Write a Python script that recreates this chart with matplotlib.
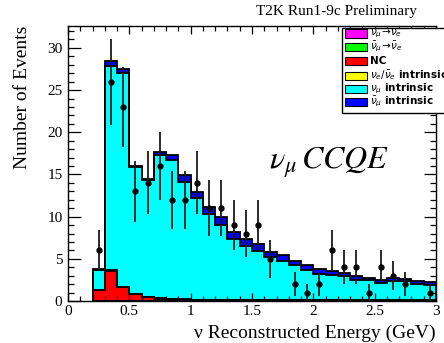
import numpy as np
import matplotlib
matplotlib.use("Agg")
import matplotlib.pyplot as plt
from matplotlib.patches import Rectangle
from matplotlib.ticker import MultipleLocator, FixedLocator, FixedFormatter

plt.rcParams['font.family'] = ['Liberation Serif', 'DejaVu Serif']
plt.rcParams['mathtext.fontset'] = 'stix'

# Reconstructed-energy binning (GeV)
bin_edges = np.linspace(0.2, 3.0, 29)

# Predicted events per bin, by component
numu_to_nue = [0.02, 0.03, 0.03, 0.02, 0.02, 0.02, 0.02, 0.02, 0.02, 0.02, 0.02, 0.02, 0.02, 0.02,
               0.02, 0.02, 0.02, 0.02, 0.02, 0.02, 0.02, 0.02, 0.02, 0.02, 0.02, 0.02, 0.02, 0.02]
numubar_to_nuebar = [0.01, 0.01, 0.01, 0.01, 0.01, 0.01, 0.01, 0.01, 0.01, 0.01, 0.01, 0.01, 0.01, 0.01,
                     0.01, 0.01, 0.01, 0.01, 0.01, 0.01, 0.01, 0.01, 0.01, 0.01, 0.01, 0.01, 0.01, 0.01]
nc = [1.30, 3.55, 1.60, 0.80, 0.45, 0.25, 0.15, 0.12, 0.10, 0.08, 0.07, 0.06, 0.05, 0.05,
      0.04, 0.04, 0.03, 0.03, 0.03, 0.03, 0.02, 0.02, 0.02, 0.02, 0.02, 0.02, 0.02, 0.02]
nue_intrinsic = [0.03, 0.03, 0.03, 0.03, 0.03, 0.03, 0.03, 0.03, 0.03, 0.03, 0.03, 0.03, 0.03, 0.03,
                 0.03, 0.03, 0.03, 0.03, 0.05, 0.05, 0.05, 0.05, 0.05, 0.05, 0.05, 0.05, 0.05, 0.05]
numu_intrinsic = [2.34, 24.20, 25.35, 15.00, 13.80, 16.95, 16.50, 13.95, 12.05, 10.15, 8.87, 7.23, 6.44, 5.79,
                  5.10, 4.65, 4.16, 3.61, 3.11, 3.01, 2.82, 2.42, 2.42, 2.02, 2.22, 2.22, 1.97, 1.82]
numubar_intrinsic = [0.05, 0.60, 0.50, 0.20, 0.20, 0.45, 0.60, 0.80, 0.75, 0.80, 0.90, 0.85, 0.85, 0.80,
                     0.65, 0.65, 0.55, 0.55, 0.55, 0.45, 0.45, 0.45, 0.25, 0.40, 0.40, 0.30, 0.30, 0.30]

# Observed events per bin
data_counts = [6, 26, 23, 13, 14, 16, 12, 12, 14, 11, 11, 9, 8, 9,
               5, 0, 2, 1, 2, 6, 4, 4, 1, 4, 3, 2, 0, 1]

x_ticks = [0, 0.5, 1, 1.5, 2, 2.5, 3]
x_tick_labels = ["0", "0.5", "1", "1.5", "2", "2.5", "3"]
y_ticks = [0, 5, 10, 15, 20, 25, 30]
y_tick_labels = ["0", "5", "10", "15", "20", "25", "30"]

stack = [
    (numu_to_nue, "#ff00ff", r"$\nu_{\mu}\!\rightarrow\!\nu_{e}$"),
    (numubar_to_nuebar, "#00ff00", r"$\bar{\nu}_{\mu}\!\rightarrow\!\bar{\nu}_{e}$"),
    (nc, "#ff0000", "NC"),
    (nue_intrinsic, "#ffff00", r"$\nu_{e}/\bar{\nu}_{e}$ intrinsic"),
    (numu_intrinsic, "#00ffff", r"$\nu_{\mu}$ intrinsic"),
    (numubar_intrinsic, "#0000ff", r"$\bar{\nu}_{\mu}$ intrinsic"),
]

W, H = 444, 343
fig = plt.figure(figsize=(W / 100, H / 100), dpi=100)
ax = fig.add_axes([68 / W, 1 - 301 / H, (436 - 68) / W, (301 - 26) / H])

# Stacked filled histograms
bottom = np.zeros(len(bin_edges) - 1)
tops = []
for vals, color, _ in stack:
    top = bottom + np.asarray(vals)
    ax.stairs(top, bin_edges, baseline=bottom, fill=True, color=color, lw=0, zorder=1)
    tops.append(top)
    bottom = top
for top in tops:
    ax.stairs(top, bin_edges, baseline=0, fill=False, edgecolor="black", lw=1.3, zorder=2)

# Data points with Poisson errors
counts = np.asarray(data_counts, dtype=float)
centers = 0.5 * (bin_edges[:-1] + bin_edges[1:])
mask = counts > 0
ax.errorbar(centers[mask], counts[mask], yerr=np.sqrt(counts[mask]), fmt="o", color="black",
            ecolor="#1a1a1a", ms=3.5, elinewidth=1.3, capsize=0, zorder=3)

ax.set_xlim(0, 3)
ax.set_ylim(0, 32.6)
ax.xaxis.set_major_locator(FixedLocator(x_ticks))
ax.xaxis.set_major_formatter(FixedFormatter(x_tick_labels))
ax.xaxis.set_minor_locator(MultipleLocator(0.1))
ax.yaxis.set_major_locator(FixedLocator(y_ticks))
ax.yaxis.set_major_formatter(FixedFormatter(y_tick_labels))
ax.yaxis.set_minor_locator(MultipleLocator(1))
ax.tick_params(which="both", direction="in", top=True, right=True, width=0.9, labelsize=11)
ax.tick_params(axis="x", which="major", length=6, pad=3)
ax.tick_params(axis="x", which="minor", length=3.5)
ax.tick_params(axis="y", which="major", length=9, pad=4)
ax.tick_params(axis="y", which="minor", length=4.5)
for s in ax.spines.values():
    s.set_linewidth(1.0)

ax.set_xlabel("ν Reconstructed Energy (GeV)", loc="right", fontsize=14, labelpad=5)
ax.set_ylabel("Number of Events", loc="top", fontsize=14, labelpad=12)

fig.text(336 / W, 1 - 12 / H, "T2K Run1-9c Preliminary", ha="center", va="center", fontsize=11)
fig.text(329 / W, 1 - 163 / H, r"$\nu_{\mu}\,CCQE$", ha="center", va="center", fontsize=23)

# Legend box
fig.patches.append(Rectangle((342 / W, 1 - 113 / H), 0.3, (113 - 27.5) / H,
                             transform=fig.transFigure, facecolor="white", edgecolor="black",
                             lw=1.0, zorder=5))
row_y = [33.5, 47, 61, 75.5, 89, 102]
for (vals, color, label), ry in zip(stack, row_y):
    fig.patches.append(Rectangle((345 / W, 1 - (ry + 4) / H), 21.5 / W, 8 / H,
                                 transform=fig.transFigure, facecolor=color, edgecolor="black",
                                 lw=0.8, zorder=6))
    fig.text(370 / W, 1 - ry / H, label, ha="left", va="center", fontsize=7.5,
             family=["DejaVu Sans"], fontweight="bold", math_fontfamily="dejavusans", zorder=7)

fig.savefig("out.png", dpi=100)
